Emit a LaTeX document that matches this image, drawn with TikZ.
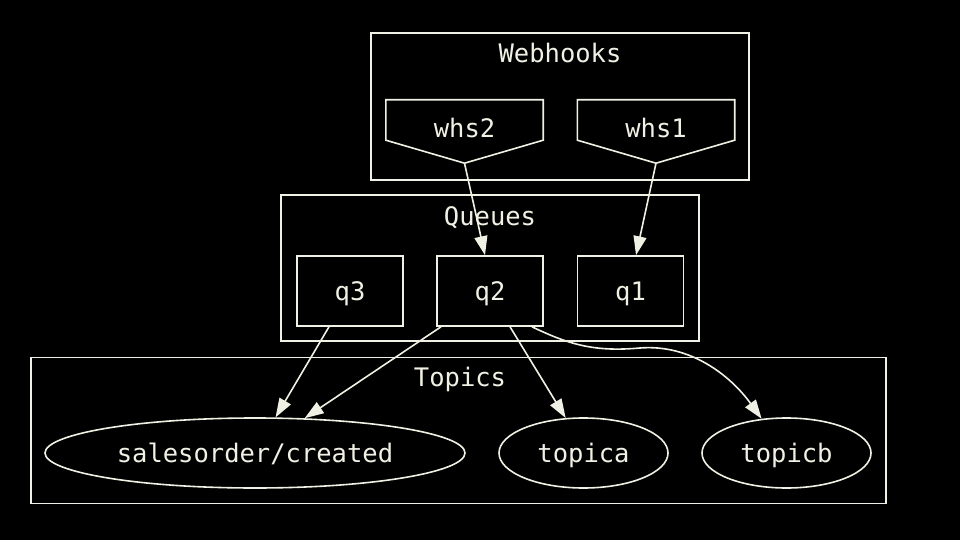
\documentclass[tikz,border=0pt]{standalone}
\usepackage{fontspec}
\newfontfamily\monofont{DejaVu Sans Mono}
\usetikzlibrary{arrows.meta,shapes.geometric}
\definecolor{ink}{RGB}{240,240,228}
\tikzset{
  txt/.style={font=\monofont\fontsize{25.5}{30}\selectfont, text=ink, inner sep=0pt, text height=22pt, text depth=3pt},
  cluster/.style={draw=ink, line width=1.6pt, rectangle, inner sep=0pt},
  qbox/.style={txt, draw=ink, line width=1.6pt, rectangle, minimum width=106pt, minimum height=70pt},
  topic/.style={txt, draw=ink, line width=1.6pt, ellipse, minimum height=70pt},
  whsbox/.style={txt, rectangle, minimum width=157pt, minimum height=63pt},
  conn/.style={draw=ink, line width=1.6pt, -{Triangle[length=19pt,width=13pt,fill=ink]}},
}
\begin{document}
\begin{tikzpicture}[x=1pt,y=-1pt]
\fill[black] (0,0) rectangle (960,540);
\useasboundingbox (0,0) rectangle (960,540);
% clusters
\node[cluster, minimum width=378pt, minimum height=147pt] (webhooks) at (560,106.5) {};
\node[txt] (webhookslbl) at (560,53) {Webhooks};
\node[cluster, minimum width=418pt, minimum height=146pt] (queues) at (490,268) {};
\node[txt] (queueslbl) at (490,216) {Queues};
\node[cluster, minimum width=855pt, minimum height=146pt] (topics) at (458.5,430.5) {};
\node[txt] (topicslbl) at (460,377) {Topics};
% webhook sources
\node[whsbox] (whs2) at (464.5,131.5) {\raisebox{3pt}{whs2}};
\node[whsbox] (whs1) at (656,131.5) {\raisebox{3pt}{whs1}};
\foreach \w in {whs2,whs1}{
  \draw[ink, line width=1.6pt, line join=miter] (\w.north west) -- (\w.north east) -- ([yshift=23pt]\w.south east) -- (\w.south) -- ([yshift=23pt]\w.south west) -- cycle;
}
% queues
\node[qbox] (q3) at (350,291) {q3};
\node[qbox] (q2) at (490,291) {q2};
\node[qbox] (q1) at (630.5,291) {q1};
% topics
\node[topic, minimum width=420pt] (so) at (255,453) {salesorder/created};
\node[topic, minimum width=169pt] (topica) at (583.5,453) {topica};
\node[topic, minimum width=169pt] (topicb) at (786.5,453) {topicb};
% connectors
\draw[conn] (whs2.south) -- ([xshift=-5pt]q2.north);
\draw[conn] (whs1.south) -- ([xshift=5.5pt]q1.north);
\draw[conn] ([xshift=-21pt]q3.south) -- (so.60);
\draw[conn] ([xshift=-49pt]q2.south) -- (so.35.4);
\draw[conn] ([xshift=20pt]q2.south) -- (topica.117.9);
\draw[conn] ([xshift=42pt]q2.south) .. controls (570,345) and (595,352) .. (640,348) .. controls (690,344) and (730,375) .. (topicb.126);
\end{tikzpicture}
\end{document}
